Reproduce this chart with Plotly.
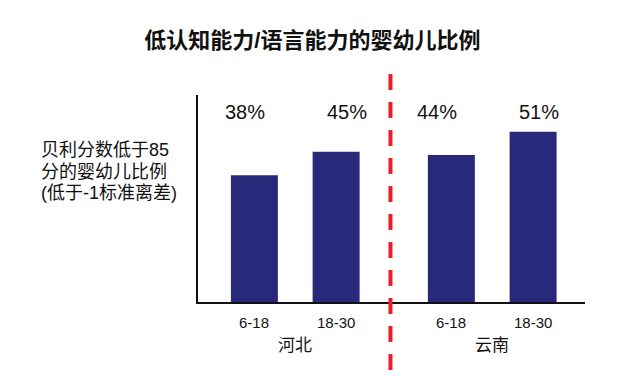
import plotly.graph_objects as go

# ---- data ----
title_text = "低认知能力/语言能力的婴幼儿比例"
ylabel_lines = ["贝利分数低于85", "分的婴幼儿比例", "(低于-1标准离差)"]
groups = ["河北", "云南"]
age_labels = ["6-18", "18-30"]
values = [[38, 45], [44, 51]]  # percent, per group per age band

# ---- layout helpers (positions computed, not data) ----
GROUP_STEP = 2.41
xs, ys, ticks, labels = [], [], [], []
for g, grp in enumerate(groups):
    for i, age in enumerate(age_labels):
        xs.append(g * GROUP_STEP + i)
        ys.append(values[g][i])
        labels.append(f"{values[g][i]}%")
        ticks.append(age)

FONT = "Liberation Sans, Arial, Noto Sans CJK SC, sans-serif"
BAR_COLOR = "#28297a"
label_xshift = [-9, 11, -14, 6]

PLOT_TOP, PLOT_H = 95, 207


def paper_y(px):
    return 1 - (px - PLOT_TOP) / PLOT_H


fig = go.Figure()
fig.add_trace(go.Bar(x=xs, y=ys, width=0.575, marker=dict(color=BAR_COLOR, line=dict(width=0)),
                     showlegend=False, hoverinfo="skip"))

ann = []
# percent labels
for x, t, sh in zip(xs, labels, label_xshift):
    ann.append(dict(x=x, y=paper_y(112), xref="x", yref="paper", text=t, showarrow=False,
                    xanchor="center", yanchor="middle",
                    xshift=sh, font=dict(family=FONT, size=20, color="#111")))
# tick labels
for x, t in zip(xs, ticks):
    ann.append(dict(x=x, y=paper_y(322), xref="x", yref="paper", text=t, showarrow=False,
                    xanchor="center", yanchor="middle", font=dict(family=FONT, size=15, color="#111")))
# group labels
for g, grp in enumerate(groups):
    cx = g * GROUP_STEP + 0.5
    ann.append(dict(x=cx, y=paper_y(345), xref="x", yref="paper", text=grp, showarrow=False,
                    xanchor="center", yanchor="middle", font=dict(family=FONT, size=17, color="#111")))
# y label lines
for line, py in zip(ylabel_lines, [150, 171.5, 193]):
    ann.append(dict(x=0, y=paper_y(py), xref="paper", yref="paper", xanchor="left", yanchor="middle",
                    xshift=-159, text=line, showarrow=False, align="left",
                    font=dict(family=FONT, size=18, color="#111")))

sep_x = (xs[1] + xs[2]) / 2 - 0.04

fig.update_layout(
    width=621, height=380,
    margin=dict(l=198, r=36, t=PLOT_TOP, b=380 - PLOT_TOP - PLOT_H),
    paper_bgcolor="white", plot_bgcolor="white",
    title=dict(text=f"<b>{title_text}</b>", x=0.503, xanchor="center", y=1 - 40 / 380, yanchor="middle",
               font=dict(family=FONT, size=22, color="#111")),
    xaxis=dict(range=[-0.69, 4.045], showticklabels=False, ticks="", showgrid=False, zeroline=False,
               showline=True, linecolor="#111", linewidth=2),
    yaxis=dict(range=[0, 62], showticklabels=False, ticks="", showgrid=False, zeroline=False,
               showline=True, linecolor="#111", linewidth=2),
    annotations=ann,
    shapes=[dict(type="line", xref="x", yref="paper", x0=sep_x, x1=sep_x,
                 y0=paper_y(370), y1=paper_y(62),
                 line=dict(color="#e8202a", width=4, dash="16px,12px"))],
)

fig.write_html("out.html", config={"displayModeBar": False, "staticPlot": True})
with open("out.html", encoding="utf-8") as f:
    html = f.read()
html = html.replace("<head>", "<head><style>html,body{margin:0;padding:0;overflow:hidden;}</style>", 1)
with open("out.html", "w", encoding="utf-8") as f:
    f.write(html)
